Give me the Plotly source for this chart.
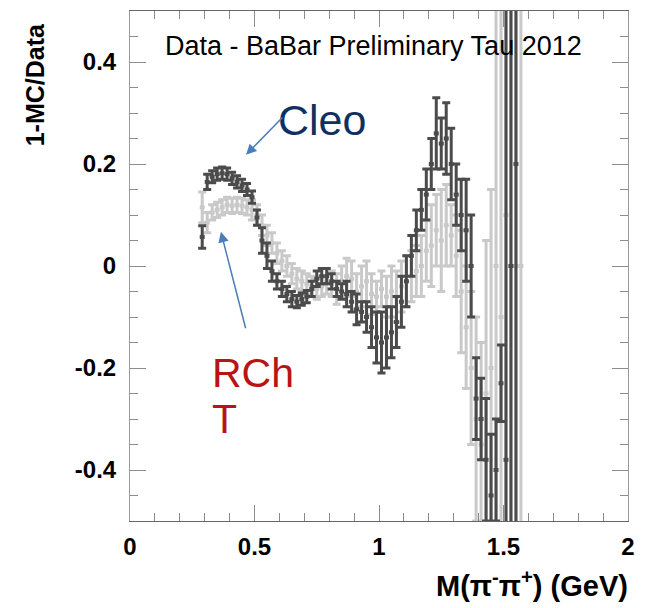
import plotly.graph_objects as go

# Bin centres (GeV), bin half-width 0.01 GeV
mass = [0.29, 0.31, 0.33, 0.35, 0.37, 0.39, 0.41, 0.43, 0.45, 0.47,
        0.49, 0.51, 0.53, 0.55, 0.57, 0.59, 0.61, 0.63, 0.65, 0.67,
        0.69, 0.71, 0.73, 0.75, 0.77, 0.79, 0.81, 0.83, 0.85, 0.87,
        0.89, 0.91, 0.93, 0.95, 0.97, 0.99, 1.01, 1.03, 1.05, 1.07,
        1.09, 1.11, 1.13, 1.15, 1.17, 1.19, 1.21, 1.23, 1.25, 1.27,
        1.29, 1.31, 1.33, 1.35, 1.37, 1.39, 1.41, 1.43, 1.45, 1.47,
        1.49, 1.51, 1.53, 1.55, 1.57]
half_width = 0.01

# 1 - MC/Data, Cleo-tuned MC (no entry in the last bin)
cleo_ratio = [0.057, 0.165, 0.175, 0.180, 0.182, 0.180, 0.172, 0.165, 0.158, 0.150,
              0.135, 0.095, 0.050, 0.020, -0.010, -0.030, -0.045, -0.055, -0.065, -0.070,
              -0.065, -0.060, -0.045, -0.025, -0.020, -0.020, -0.030, -0.045, -0.050, -0.055,
              -0.070, -0.085, -0.090, -0.100, -0.120, -0.140, -0.150, -0.140, -0.130, -0.110,
              -0.070, -0.030, 0.020, 0.070, 0.110, 0.140, 0.200, 0.260, 0.240, 0.250,
              0.200, 0.140, 0.100, 0.070, 0.000, -0.260, -0.300, -0.380, -0.450, -0.400,
              -0.230, -0.380, 0.000, 0.200, None]
cleo_err = [0.022, 0.015, 0.012, 0.012, 0.012, 0.012, 0.012, 0.012, 0.012, 0.012,
            0.012, 0.015, 0.025, 0.025, 0.020, 0.015, 0.015, 0.015, 0.015, 0.012,
            0.012, 0.012, 0.015, 0.015, 0.015, 0.015, 0.015, 0.015, 0.015, 0.025,
            0.020, 0.030, 0.020, 0.030, 0.040, 0.050, 0.060, 0.060, 0.050, 0.050,
            0.050, 0.050, 0.040, 0.040, 0.040, 0.050, 0.050, 0.070, 0.050, 0.070,
            0.070, 0.060, 0.070, 0.100, 0.100, 0.080, 0.080, 0.120, 0.120, 0.100,
            0.075, 0.950, 1.000, 1.000, 0.0]

# 1 - MC/Data, RChT MC
rcht_ratio = [0.115, 0.085, 0.105, 0.110, 0.115, 0.120, 0.118, 0.120, 0.118, 0.115,
              0.110, 0.100, 0.080, 0.060, 0.045, 0.025, 0.010, 0.000, -0.015, -0.025,
              -0.030, -0.035, -0.040, -0.045, -0.040, -0.030, -0.035, -0.045, -0.030, -0.020,
              -0.025, -0.050, -0.040, -0.030, -0.055, -0.060, -0.045, -0.060, -0.050, -0.060,
              -0.040, -0.030, -0.020, -0.010, 0.000, 0.030, 0.040, 0.070, 0.050, 0.080,
              0.060, 0.020, -0.050, -0.120, -0.200, -0.300, -0.350, -0.250, -0.200, 0.000,
              -0.100, 0.100, 0.000, 0.000, 0.000]
rcht_err = [0.030, 0.020, 0.015, 0.015, 0.015, 0.015, 0.015, 0.015, 0.015, 0.015,
            0.020, 0.020, 0.020, 0.020, 0.020, 0.020, 0.020, 0.020, 0.020, 0.020,
            0.020, 0.020, 0.020, 0.020, 0.020, 0.025, 0.025, 0.030, 0.030, 0.035,
            0.035, 0.035, 0.040, 0.040, 0.040, 0.030, 0.035, 0.040, 0.050, 0.050,
            0.050, 0.050, 0.050, 0.050, 0.060, 0.060, 0.080, 0.070, 0.100, 0.080,
            0.060, 0.080, 0.120, 0.120, 0.150, 0.200, 0.200, 0.300, 0.350, 0.600,
            1.000, 1.000, 1.000, 1.000, 1.000]

DARK = "#4b4b4b"
LIGHT = "#c9c9c9"
FONT = "Liberation Sans"


def series(y, err, color, name):
    return go.Scatter(
        x=mass, y=y, mode="markers", name=name,
        marker=dict(color=color, size=4, symbol="circle"),
        error_y=dict(type="data", array=err, visible=True,
                     color=color, thickness=3, width=4),
        error_x=dict(type="constant", value=half_width, visible=True,
                     color=color, thickness=4, width=0),
        showlegend=False,
    )


fig = go.Figure()
fig.add_trace(series(rcht_ratio, rcht_err, LIGHT, "RChT"))
fig.add_trace(series(cleo_ratio, cleo_err, DARK, "Cleo"))

axis_common = dict(
    showgrid=False, zeroline=False, showline=True, mirror="allticks",
    ticks="inside", ticklen=16, tickwidth=1, tickcolor="#8c8c8c",
    tickfont=dict(family=FONT, size=24, color="black", weight="bold"),
)

fig.update_xaxes(
    range=[0, 2], tickvals=[0, 0.5, 1, 1.5, 2], ticktext=["0", "0.5", "1", "1.5", "2"],
    linecolor="#666666", ticklabelstandoff=4,
    minor=dict(dtick=0.1, ticks="inside", ticklen=8, tickcolor="#8c8c8c", showgrid=False),
    **axis_common,
)
fig.update_yaxes(
    range=[-0.5, 0.5], tickvals=[-0.4, -0.2, 0, 0.2, 0.4],
    ticktext=["-0.4", "-0.2", "0", "0.2", "0.4"],
    linecolor="#9a9a9a", ticklabelstandoff=8,
    minor=dict(dtick=0.05, ticks="inside", ticklen=8, tickcolor="#8c8c8c", showgrid=False),
    **axis_common,
)

annotations = [
    dict(text="Data - BaBar Preliminary Tau 2012", x=0.1325, y=0.431, xref="x", yref="y",
         xanchor="left", yanchor="middle", showarrow=False,
         font=dict(family=FONT, size=27, color="black")),
    dict(text="Cleo", x=0.771, y=0.286, xref="x", yref="y",
         xanchor="center", yanchor="middle", showarrow=False,
         font=dict(family=FONT, size=43, color="#12305f")),
    dict(text="RCh", x=0.321, y=-0.21, xref="x", yref="y",
         xanchor="left", yanchor="middle", showarrow=False,
         font=dict(family=FONT, size=41, color="#b81414")),
    dict(text="T", x=0.321, y=-0.30, xref="x", yref="y",
         xanchor="left", yanchor="middle", showarrow=False,
         font=dict(family=FONT, size=41, color="#b81414")),
    # arrows pointing at the two curves
    dict(text="", x=0.466, y=0.218, ax=0.618, ay=0.294, xref="x", yref="y",
         axref="x", ayref="y", showarrow=True, arrowhead=2, arrowsize=1.4,
         arrowwidth=1.5, arrowcolor="#4a7ebb"),
    dict(text="", x=0.365, y=0.067, ax=0.466, ay=-0.125, xref="x", yref="y",
         axref="x", ayref="y", showarrow=True, arrowhead=2, arrowsize=1.4,
         arrowwidth=1.5, arrowcolor="#4a7ebb"),
    # axis titles
    dict(text="1-MC/Data", x=-0.19, y=0.855, xref="paper", yref="paper",
         xanchor="center", yanchor="middle", textangle=-90, showarrow=False,
         font=dict(family=FONT, size=25, color="black", weight="bold")),
    dict(text="M(\u03c0<sup>-</sup>\u03c0<sup>+</sup>) (GeV)", x=1.005, y=-0.123,
         xref="paper", yref="paper", xanchor="right", yanchor="middle", showarrow=False,
         font=dict(family=FONT, size=29, color="black", weight="bold")),
]

fig.update_layout(
    width=646, height=608,
    margin=dict(l=130, r=18, t=11, b=87),
    paper_bgcolor="white", plot_bgcolor="white",
    annotations=annotations,
)

fig.write_html("out.html")
